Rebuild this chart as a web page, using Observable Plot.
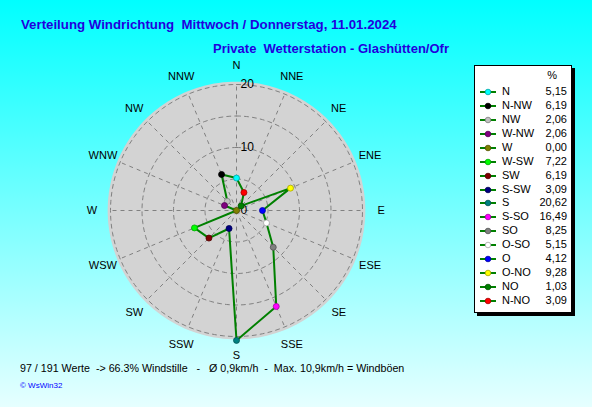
<!DOCTYPE html>
<html>
<head>
<meta charset="utf-8">
<script src="https://cdn.jsdelivr.net/npm/d3@7"></script>
<script src="https://cdn.jsdelivr.net/npm/@observablehq/plot@0.6"></script>
<style>
  html, body { margin: 0; padding: 0; }
  body { width: 592px; height: 407px; overflow: hidden; font-family: "Liberation Sans", Arial, sans-serif; }
  #page { position: relative; width: 592px; height: 407px; background: linear-gradient(to bottom, #00FFFF 0%, #E6FFFF 100%); }
  #chart { position: absolute; left: 0; top: 0; }
  .t { position: absolute; white-space: pre; transform-origin: left center; }
  #title { left: 21px; top: 17px; font-size: 13px; font-weight: bold; color: #2200DD; transform: scaleX(1.02); }
  #subtitle { left: 213px; top: 41px; font-size: 13px; font-weight: bold; color: #2200DD; }
  #footer { left: 20px; top: 362px; font-size: 11px; color: #000; transform: scaleX(0.972); }
  #copy { left: 20px; top: 381px; font-size: 8px; color: #0000FF; }
  #legend { position: absolute; left: 474px; top: 65px; width: 96px; height: 246px; background: #FFFFFF; border: 1px solid #000; box-shadow: 3px 3px 0 #000; font-size: 11px; }
  .row { position: absolute; left: 0; width: 96px; height: 14px; }
  .row svg { position: absolute; left: 4px; top: 2px; }
  .lab { position: absolute; left: 27px; top: 0; }
  .val { position: absolute; right: 4px; top: 0; }
</style>
</head>
<body>
<div id="page">
  <div id="chart"></div>
  <div class="t" id="title"></div>
  <div class="t" id="subtitle"></div>
  <div class="t" id="footer"></div>
  <div class="t" id="copy"></div>
  <div id="legend"></div>
</div>
<script>
// ---- data ----
const titleText = "Verteilung Windrichtung  Mittwoch / Donnerstag, 11.01.2024";
const subtitleText = "Private  Wetterstation - Glashütten/Ofr";
const footerText = "97 / 191 Werte  -> 66.3% Windstille   -   Ø 0,9km/h  -  Max. 10,9km/h = Windböen";
const copyText = "© WsWin32";

// legend order (counter-clockwise from north)
const sectors = ["N","N-NW","NW","W-NW","W","W-SW","SW","S-SW","S","S-SO","SO","O-SO","O","O-NO","NO","N-NO"];
const percents = [5.15,6.19,2.06,2.06,0.00,7.22,6.19,3.09,20.62,16.49,8.25,5.15,4.12,9.28,1.03,3.09];
const markerColors = ["#00FFFF","#000000","#C0C0C0","#800080","#808000","#00FF00","#800000","#000080","#008080","#FF00FF","#808080","#FFFFFF","#0000FF","#FFFF00","#008000","#FF0000"];
const sectorStep = -22.5; // degrees between legend sectors (counter-clockwise)

// compass labels (clockwise from north)
const compass = ["N","NNE","NE","ENE","E","ESE","SE","SSE","S","SSW","SW","WSW","W","WNW","NW","NNW"];
const ringValues = [5, 10, 15, 20];
const ringLabels = [0, 10, 20];
const rMax = 20;

// ---- layout ----
const W = 592, H = 407, cx = 236, cy = 210, k = 6.3;
const deg = Math.PI / 180;
const px = (r, a) => r * Math.sin(a * deg);
const py = (r, a) => r * Math.cos(a * deg);

const pts = sectors.map((s, i) => ({name: s, v: percents[i], c: markerColors[i], a: i * sectorStep}))
  .map(d => ({...d, x: px(d.v, d.a), y: py(d.v, d.a)}));
const closed = [...pts, pts[0]];

const circle = r => d3.range(0, 361, 2).map(a => ({x: px(r, a), y: py(r, a), r}));
const disk = circle(rMax + 0.45);
const rings = ringValues.flatMap(r => circle(r));
const spokes = compass.map((c, i) => ({x2: px(rMax, i * 22.5), y2: py(rMax, i * 22.5)}));
const labels = compass.map((c, i) => ({c, x: px(rMax + 2.95, i * 22.5), y: py(rMax + 2.95, i * 22.5)}));

const chart = Plot.plot({
  width: W, height: H,
  marginLeft: 0, marginRight: 0, marginTop: 0, marginBottom: 0,
  x: {domain: [-cx / k, (W - cx) / k], axis: null},
  y: {domain: [-(H - cy) / k, cy / k], axis: null},
  style: {background: "transparent", fontFamily: "Liberation Sans, Arial, sans-serif"},
  marks: [
    Plot.line(disk, {x: "x", y: "y", fill: "#D3D3D3", stroke: "none"}),
    Plot.line(rings, {x: "x", y: "y", z: "r", stroke: "#808080", strokeWidth: 1, strokeDasharray: "4,4"}),
    Plot.link(spokes, {x1: 0, y1: 0, x2: "x2", y2: "y2", stroke: "#808080", strokeWidth: 1, strokeDasharray: "4,4"}),
    Plot.text(ringLabels, {x: 0, y: d => d, text: d => String(d), textAnchor: "start", dx: 4, fontSize: 12, fill: "#000"}),
    Plot.text(labels, {x: "x", y: "y", text: "c", fontSize: 11, fill: "#000"}),
    Plot.line(closed, {x: "x", y: "y", stroke: "#008000", strokeWidth: 2, curve: "linear"}),
    Plot.dot(pts, {x: "x", y: "y", r: 3, fill: "c", stroke: d => d3.color(d.c).darker(1.2).formatHex(), strokeWidth: 0.8})
  ]
});
document.getElementById("chart").appendChild(chart);

document.getElementById("title").textContent = titleText;
document.getElementById("subtitle").textContent = subtitleText;
document.getElementById("footer").textContent = footerText;
document.getElementById("copy").textContent = copyText;

const lg = document.getElementById("legend");
const hdr = document.createElement("div");
hdr.className = "row"; hdr.style.top = "3px";
hdr.innerHTML = '<span class="val" style="right:14px">%</span>';
lg.appendChild(hdr);
sectors.forEach((s, i) => {
  const row = document.createElement("div");
  row.className = "row";
  row.style.top = (19 + i * 13.93) + "px";
  const stroke = d3.color(markerColors[i]).darker(1.2).formatHex();
  row.innerHTML = `<svg width="18" height="10"><line x1="1" y1="5" x2="17" y2="5" stroke="#008000" stroke-width="2"/><circle cx="9" cy="5" r="2.8" fill="${markerColors[i]}" stroke="${stroke}" stroke-width="0.8"/></svg><span class="lab">${s}</span><span class="val">${percents[i].toFixed(2).replace(".", ",")}</span>`;
  lg.appendChild(row);
});
</script>
</body>
</html>
